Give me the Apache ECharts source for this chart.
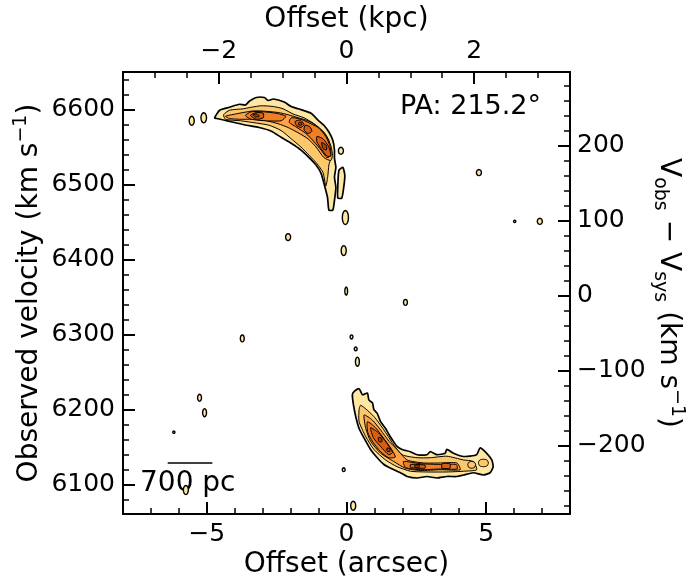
<!DOCTYPE html>
<html>
<head>
<meta charset="utf-8">
<script src="https://cdn.jsdelivr.net/npm/echarts@6/dist/echarts.min.js"></script>
<style>
  html, body { margin: 0; padding: 0; background: #fff; }
  #chart { width: 687px; height: 579px; }
</style>
</head>
<body>
<div id="chart"></div>
<script>
// axes
const offsetRange = [-8, 8];          // arcsec
const velRange = [6061, 6650];        // km/s
const vSys = 6352;
const kpcPerArcsec = 0.4377;
const arcsecLabels = [-5, 0, 5];
const kpcLabels = [-2, 0, 2];
const velLabels = [6100, 6200, 6300, 6400, 6500, 6600];
const dvLabels = [-200, -100, 0, 100, 200];

// contour levels, outer to inner: [offset (arcsec), velocity (km/s)]
const upperOuter = [[-4.72,6589],[-4.54,6599],[-4.19,6603],[-3.83,6607],[-3.62,6606],[-3.48,6611],[-3.23,6616],[-2.94,6616],[-2.80,6612],[-2.62,6614],[-2.23,6610],[-1.98,6604],[-1.73,6601],[-1.27,6595],[-1.02,6586],[-0.81,6579],[-0.63,6570],[-0.49,6559],[-0.43,6546],[-0.43,6535],[-0.38,6523],[-0.43,6510],[-0.38,6496],[-0.43,6479],[-0.49,6466],[-0.63,6466],[-0.68,6483],[-0.81,6502],[-0.91,6515],[-1.09,6526],[-1.34,6536],[-1.63,6546],[-1.98,6555],[-2.34,6563],[-2.69,6571],[-3.12,6576],[-3.58,6579],[-4.05,6583],[-4.40,6586],[-4.65,6588]];
const upperTail = [[-0.27,6519],[-0.13,6523],[-0.06,6512],[-0.10,6496],[-0.17,6482],[-0.31,6482],[-0.31,6499]];
const lowerOuter = [[0.21,6220],[0.27,6224],[0.45,6228],[0.57,6220],[0.75,6222],[0.80,6213],[0.93,6209],[0.98,6200],[1.10,6195],[1.22,6184],[1.40,6175],[1.52,6167],[1.64,6160],[1.81,6151],[1.99,6147],[2.29,6144],[2.53,6140],[2.88,6140],[3.00,6144],[3.24,6140],[3.53,6142],[3.59,6147],[3.83,6142],[4.13,6138],[4.42,6138],[4.66,6140],[4.78,6149],[4.96,6144],[5.20,6133],[5.25,6124],[5.14,6116],[4.90,6113],[4.54,6116],[4.19,6113],[3.95,6111],[3.59,6111],[3.24,6109],[2.88,6111],[2.53,6109],[2.17,6111],[1.93,6116],[1.58,6122],[1.34,6127],[1.10,6136],[0.86,6147],[0.63,6162],[0.45,6175],[0.33,6191],[0.25,6206]];

const upperL2 = [[-4.40,6593],[-4.19,6599],[-3.69,6601],[-3.41,6603],[-3.05,6605],[-2.62,6604],[-2.27,6601],[-1.91,6594],[-1.52,6589],[-1.16,6581],[-0.81,6570],[-0.63,6559],[-0.56,6546],[-0.56,6535],[-0.63,6526],[-0.67,6511],[-0.74,6498],[-0.84,6516],[-1.06,6528],[-1.34,6539],[-1.63,6550],[-1.98,6561],[-2.34,6572],[-2.77,6579],[-3.23,6582],[-3.80,6585],[-4.33,6587]];
const lowerL2 = [[0.51,6206],[0.98,6191],[1.34,6173],[1.64,6156],[1.99,6140],[2.53,6136],[3.00,6136],[3.59,6138],[4.19,6133],[4.54,6131],[4.66,6120],[4.19,6118],[3.59,6117],[2.88,6117],[2.29,6118],[1.81,6124],[1.40,6133],[0.98,6147],[0.69,6164],[0.45,6184],[0.45,6200]];
const lowerRingA = [[4.34,6127],[4.38,6130],[4.48,6131],[4.58,6130],[4.62,6127],[4.58,6123],[4.48,6122],[4.38,6123]];
const lowerRingB = [[4.72,6129],[4.77,6133],[4.90,6134],[5.03,6133],[5.08,6129],[5.03,6125],[4.90,6124],[4.77,6125]];

const upperL3 = [[-4.33,6591],[-3.98,6594],[-3.37,6598],[-3.02,6598],[-2.44,6596],[-2.09,6593],[-1.73,6589],[-1.38,6585],[-1.02,6577],[-0.74,6565],[-0.56,6552],[-0.50,6539],[-0.56,6532],[-0.81,6536],[-1.09,6550],[-1.38,6561],[-1.73,6569],[-2.09,6576],[-2.44,6581],[-2.87,6585],[-3.37,6587],[-3.83,6587],[-4.19,6588]];
const lowerL3 = [[0.63,6193],[0.93,6186],[1.22,6173],[1.52,6158],[1.81,6147],[2.17,6133],[2.76,6129],[3.36,6129],[3.95,6129],[4.07,6120],[3.36,6120],[2.64,6119],[2.11,6122],[1.69,6131],[1.22,6142],[0.86,6158],[0.69,6175]];

const upperL4a = [[-3.62,6592],[-3.41,6597],[-2.98,6597],[-2.52,6595],[-2.17,6591],[-2.34,6585],[-2.87,6585],[-3.41,6587]];
const upperL4b = [[-1.98,6589],[-1.63,6587],[-1.27,6581],[-0.98,6575],[-0.74,6564],[-0.59,6551],[-0.56,6539],[-0.70,6536],[-0.91,6546],[-1.16,6557],[-1.45,6568],[-1.77,6576],[-2.05,6583]];
const lowerL4a = [[0.75,6184],[1.04,6176],[1.33,6162],[1.58,6149],[1.75,6137],[1.51,6136],[1.22,6144],[0.94,6157],[0.76,6170]];
const lowerL4b = [[2.04,6131],[2.64,6128],[3.36,6127],[3.93,6127],[3.96,6121],[3.36,6121],[2.64,6120],[2.11,6123]];

const upperL5a = [[-3.44,6592],[-3.23,6596],[-2.98,6595],[-2.98,6589],[-3.23,6587]];
const upperL5b = [[-1.84,6584],[-1.66,6586],[-1.52,6580],[-1.63,6576],[-1.80,6579]];
const upperL5c = [[-1.48,6579],[-1.31,6577],[-1.24,6571],[-1.38,6568],[-1.52,6573]];
const upperL5d = [[-1.06,6564],[-0.84,6561],[-0.63,6550],[-0.56,6538],[-0.70,6538],[-0.91,6548],[-1.06,6557]];
const lowerL5a = [[0.86,6176],[1.15,6169],[1.43,6156],[1.65,6143],[1.51,6140],[1.22,6151],[0.97,6162]];
const lowerL5b = [[2.29,6127],[2.81,6126],[2.81,6122],[2.29,6123]];
const lowerL5c = [[3.42,6128],[3.70,6128],[3.70,6122],[3.42,6122]];

const upperL6a = [[-3.34,6593],[-3.20,6594],[-3.12,6591],[-3.26,6590]];
const upperL6b = [[-0.89,6556],[-0.72,6552],[-0.72,6546],[-0.84,6548]];
const upperL6c = [[-1.70,6583],[-1.60,6582],[-1.62,6579],[-1.72,6580]];
const lowerL6a = [[1.15,6163],[1.26,6162],[1.26,6157],[1.15,6158]];
const lowerL6b = [[1.45,6149],[1.55,6148],[1.55,6144],[1.45,6145]];
const lowerL6c = [[2.45,6126],[2.60,6126],[2.60,6123],[2.45,6123]];

// isolated lowest-level clumps: [offset, velocity, half width (arcsec), half height (km/s)]
const clumps = [
  [-5.54,6585,0.09,6.0], [-5.11,6589,0.10,6.6], [-0.20,6545,0.09,4.6], [4.74,6516,0.09,4.0],
  [6.02,6451,0.04,1.5], [6.92,6451,0.09,4.0], [-0.04,6456,0.11,9.3], [-0.10,6412,0.09,6.6],
  [-0.01,6358,0.05,5.3], [0.18,6297,0.05,2.7], [0.33,6281,0.05,2.5], [0.39,6264,0.07,6.0],
  [2.11,6343,0.07,4.0], [-3.73,6295,0.07,4.6], [-2.09,6430,0.09,4.6], [-5.26,6216,0.07,4.6],
  [-5.08,6196,0.07,5.3], [-6.18,6170,0.04,1.5], [-0.10,6120,0.05,2.5], [0.24,6072,0.09,6.0],
  [-5.75,6093,0.09,6.0]
];

const levels = [
  { polys: [upperOuter, upperTail, lowerOuter], color: '#fee7a2', width: 1.7 },
  { polys: [upperL2, lowerL2, lowerRingA, lowerRingB], color: '#fdc76c', width: 1 },
  { polys: [upperL3, lowerL3], color: '#fba346', width: 1 },
  { polys: [upperL4a, upperL4b, lowerL4a, lowerL4b], color: '#ef7e25', width: 1 },
  { polys: [upperL5a, upperL5b, upperL5c, upperL5d, lowerL5a, lowerL5b, lowerL5c], color: '#d75f14', width: 1 },
  { polys: [upperL6a, upperL6b, upperL6c, lowerL6a, lowerL6b, lowerL6c], color: '#a6420d', width: 1 }
];

// scale bar: 700 pc
const scaleBarStart = -6.4;
const scaleBarVel = 6129;
const scaleBarKpc = 0.7;

const FONT = 'DejaVu Sans';
const fmt = v => (v < 0 ? '\u2212' + Math.abs(v) : String(v));

function steps(from, to, step) {
  let out = [];
  for (let v = from; v <= to + 1e-9; v += step) out.push(Math.round(v * 1000) / 1000);
  return out;
}

function frameAxis(position, range, minor, labels, margin) {
  return {
    type: 'value', position: position, min: range[0], max: range[1],
    axisLine: { show: true, onZero: false, lineStyle: { color: '#000', width: 2 } },
    axisTick: { show: true, inside: true, length: 6, customValues: minor, lineStyle: { color: '#000', width: 1.5 } },
    axisLabel: { show: true, customValues: labels, formatter: fmt, margin: margin, fontSize: 25, fontFamily: FONT, color: '#000' },
    splitLine: { show: false },
    nameMoveOverlap: false
  };
}
function majorAxis(position, range, major) {
  return {
    type: 'value', position: position, min: range[0], max: range[1],
    axisLine: { show: false, onZero: false },
    axisTick: { show: true, inside: true, length: 12, customValues: major, lineStyle: { color: '#000', width: 2 } },
    axisLabel: { show: false },
    splitLine: { show: false }
  };
}

const kpcRange = [offsetRange[0] * kpcPerArcsec, offsetRange[1] * kpcPerArcsec];
const dvRange = [velRange[0] - vSys, velRange[1] - vSys];
const titleStyle = { fontSize: 28, fontFamily: FONT, color: '#000', lineHeight: 36,
  rich: {
    sub: { fontSize: 19, fontFamily: FONT, color: '#000', lineHeight: 19, verticalAlign: 'bottom' },
    sup: { fontSize: 19, fontFamily: FONT, color: '#000', lineHeight: 19, verticalAlign: 'top' }
  } };

const xBottom = frameAxis('bottom', offsetRange, steps(-8, 8, 1), arcsecLabels, 8);
Object.assign(xBottom, { name: 'Offset (arcsec)', nameLocation: 'middle', nameGap: 33, nameTextStyle: titleStyle });
const xTop = frameAxis('top', kpcRange, steps(-3.5, 3.5, 0.5), kpcLabels, 8);
Object.assign(xTop, { name: 'Offset (kpc)', nameLocation: 'middle', nameGap: 34, nameTextStyle: titleStyle });
const yLeft = frameAxis('left', velRange, steps(6080, 6640, 20), velLabels, 8);
Object.assign(yLeft, { name: 'Observed velocity (km s{sup|\u22121})', nameLocation: 'middle', nameRotate: 90, nameGap: 75, nameTextStyle: titleStyle });
const yRight = frameAxis('right', dvRange, steps(-280, 280, 20), dvLabels, 7);
Object.assign(yRight, { name: 'V{sub|obs} \u2212 V{sub|sys} (km s{sup|\u22121})', nameLocation: 'middle', nameRotate: -90, nameGap: 80, nameTextStyle: titleStyle });

function polygonSeries(level) {
  return {
    type: 'custom', xAxisIndex: 0, yAxisIndex: 0, silent: true, clip: true,
    data: level.polys.map(p => p[0]),
    renderItem: (params, api) => {
      let pts = level.polys[params.dataIndex].map(p => api.coord(p));
      return { type: 'polygon', shape: { points: pts, smooth: 0.2 },
        style: { fill: level.color, stroke: '#000', lineWidth: level.width } };
    }
  };
}

const clumpSeries = {
  type: 'custom', xAxisIndex: 0, yAxisIndex: 0, silent: true, clip: true,
  data: clumps,
  renderItem: (params, api) => {
    let c = clumps[params.dataIndex];
    let pts = [];
    for (let k = 0; k < 16; k++) {
      let t = k / 16 * Math.PI * 2;
      pts.push(api.coord([c[0] + c[2] * Math.cos(t), c[1] + c[3] * Math.sin(t)]));
    }
    return { type: 'polygon', shape: { points: pts },
      style: { fill: levels[0].color, stroke: '#000', lineWidth: 1.4 } };
  }
};

const chart = echarts.init(document.getElementById('chart'), null, { renderer: 'canvas' });
chart.setOption({
  animation: false,
  backgroundColor: '#fff',
  grid: { left: 123, right: 117, top: 72, bottom: 65, containLabel: false, outerBoundsMode: 'none' },
  xAxis: [xBottom, majorAxis('bottom', offsetRange, arcsecLabels), xTop, majorAxis('top', kpcRange, kpcLabels)],
  yAxis: [yLeft, majorAxis('left', velRange, velLabels), yRight, majorAxis('right', dvRange, dvLabels)],
  series: levels.map(polygonSeries).concat([clumpSeries, {
    type: 'line', xAxisIndex: 0, yAxisIndex: 0, symbol: 'none', silent: true,
    data: [[scaleBarStart, scaleBarVel], [scaleBarStart + scaleBarKpc / kpcPerArcsec, scaleBarVel]],
    lineStyle: { color: '#000', width: 1.5 }
  }]),
  graphic: [
    { type: 'text', x: 400, y: 107, style: { text: 'PA: 215.2\u00b0', fontSize: 27, fontFamily: FONT, fill: '#000', verticalAlign: 'middle' } },
    { type: 'text', x: 140, y: 484, style: { text: '700 pc', fontSize: 28, fontFamily: FONT, fill: '#000', verticalAlign: 'middle' } }
  ]
});
</script>
</body>
</html>
